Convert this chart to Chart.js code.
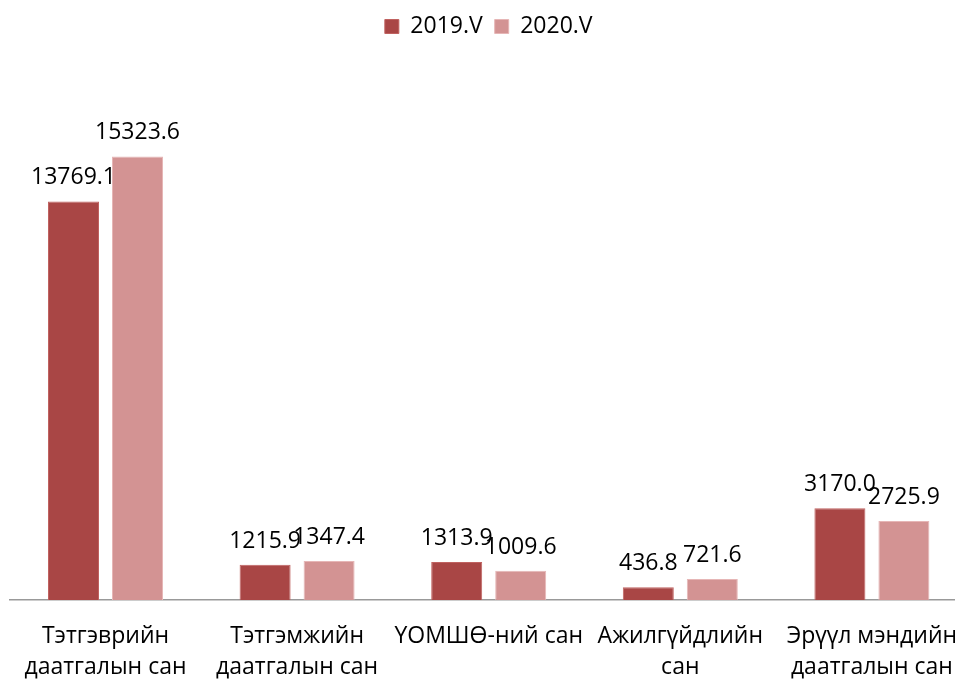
<!DOCTYPE html>
<html>
<head>
<meta charset="utf-8">
<script src="https://cdn.jsdelivr.net/npm/chart.js@4"></script>
<style>
html,body{margin:0;padding:0;background:#fff;overflow:hidden;width:955px;height:679px;}
#wrap{position:absolute;left:0;top:0;width:1000px;height:700px;}
</style>
</head>
<body>
<div id="wrap"><canvas id="c" width="1000" height="700"></canvas></div>
<script>
const categories = [
  ["Тэтгэврийн", "даатгалын сан"],
  ["Тэтгэмжийн", "даатгалын сан"],
  "ҮОМШӨ-ний сан",
  ["Ажилгүйдлийн", "сан"],
  ["Эрүүл мэндийн", "даатгалын сан"]
];
const seriesNames = ["2019.V", "2020.V"];
const values2019 = [13769.1, 1215.9, 1313.9, 436.8, 3170.0];
const values2020 = [15323.6, 1347.4, 1009.6, 721.6, 2725.9];

const FONT = "'Open Sans', 'Noto Sans', sans-serif";

const labelPlugin = {
  id: 'barLabels',
  afterDatasetsDraw(chart) {
    const ctx = chart.ctx;
    ctx.save();
    ctx.font = "23px " + FONT;
    ctx.fillStyle = "#000";
    ctx.textAlign = "center";
    ctx.textBaseline = "alphabetic";
    chart.data.datasets.forEach((ds, i) => {
      const meta = chart.getDatasetMeta(i);
      meta.data.forEach((bar, j) => {
        ctx.fillText(ds.data[j].toFixed(1), bar.x, bar.y - 17);
      });
    });
    ctx.restore();
  }
};

new Chart(document.getElementById('c'), {
  type: 'bar',
  data: {
    labels: categories,
    datasets: [
      { label: seriesNames[0], data: values2019, backgroundColor: '#A94645', borderColor: '#C06260', borderWidth: 1, categoryPercentage: 0.668, barPercentage: 0.797 },
      { label: seriesNames[1], data: values2020, backgroundColor: '#D39393', borderColor: '#E6B6B6', borderWidth: 1, categoryPercentage: 0.668, barPercentage: 0.797 }
    ]
  },
  options: {
    responsive: false,
    animation: false,
    layout: { padding: { top: 3, left: 9.7, right: 32.3, bottom: 0 } },
    plugins: {
      legend: {
        position: 'top',
        labels: { font: { family: FONT, size: 23 }, color: '#000', boxWidth: 14, boxHeight: 14, padding: 12 }
      },
      tooltip: { enabled: false }
    },
    scales: {
      x: {
        grid: { display: false, drawTicks: false },
        border: { display: true, color: '#999', width: 1.5 },
        ticks: { font: { family: FONT, size: 23, lineHeight: 1.35 }, color: '#000', padding: 21, maxRotation: 0, minRotation: 0, autoSkip: false },
        afterFit(scale) { scale.height = 100; }
      },
      y: {
        display: false,
        min: 0,
        max: 19070
      }
    }
  },
  plugins: [labelPlugin]
});
</script>
</body>
</html>
